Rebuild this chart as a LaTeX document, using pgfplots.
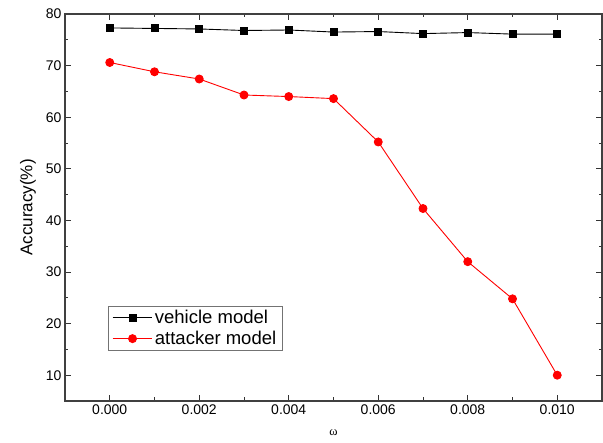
\documentclass[border=0pt]{standalone}
\usepackage{pgfplots}
\pgfplotsset{compat=1.18}
\usepackage{fontspec}
\setmainfont{Liberation Sans}
\newfontfamily\seriffont{Liberation Serif}
\usetikzlibrary{calc}

\begin{document}
\begin{tikzpicture}
\begin{axis}[
  name=ax,
  scale only axis,
  width=537pt, height=387pt,
  xmin=-0.001, xmax=0.011,
  ymin=5, ymax=80,
  xtick={0,0.002,0.004,0.006,0.008,0.010},
  ytick={10,20,...,80},
  minor x tick num=1,
  minor y tick num=1,
  scaled x ticks=false,
  xticklabel style={/pgf/number format/.cd,fixed,fixed zerofill,precision=3},
  /pgf/number format/assume math mode=true,
  tick label style={font=\fontsize{14}{16}\selectfont},
  major tick length=6pt,
  minor tick length=3.5pt,
  tick style={color=black!80, line width=0.9pt},
  axis line style={color=black!75, line width=1.2pt},
  xlabel={\seriffont\fontsize{12.5}{13}\selectfont ω},
  ylabel={\fontsize{17}{19}\selectfont Accuracy(\%)},
  xlabel style={yshift=-8pt},
  ylabel style={yshift=3pt},
  legend style={at={(0.08,0.131)}, anchor=south west, draw=black!55,
    font=\fontsize{18.5}{21}\selectfont, row sep=2pt, inner xsep=4pt, inner ysep=2pt},
  legend cell align=left,
  legend image code/.code={\draw[mark repeat=2,mark phase=2] plot coordinates {(0cm,0cm) (0.7cm,0cm) (1.4cm,0cm)};},
]
\addplot[black, line width=0.9pt, mark=square*, mark size=3.5pt] coordinates {
  (0.000,77.3) (0.001,77.2) (0.002,77.1) (0.003,76.8) (0.004,76.9) (0.005,76.5)
  (0.006,76.6) (0.007,76.2) (0.008,76.4) (0.009,76.1) (0.010,76.1)
};
\addlegendentry{vehicle model}
\addplot[red, line width=0.9pt, mark=*, mark size=4pt] coordinates {
  (0.000,70.6) (0.001,68.8) (0.002,67.4) (0.003,64.3) (0.004,64.0) (0.005,63.6)
  (0.006,55.2) (0.007,42.3) (0.008,32.0) (0.009,24.8) (0.010,10.0)
};
\addlegendentry{attacker model}
\end{axis}
\path ($(ax.south west)+(-65pt,-41.3pt)$) rectangle ($(ax.north east)+(1pt,14pt)$);
\end{tikzpicture}
\end{document}
